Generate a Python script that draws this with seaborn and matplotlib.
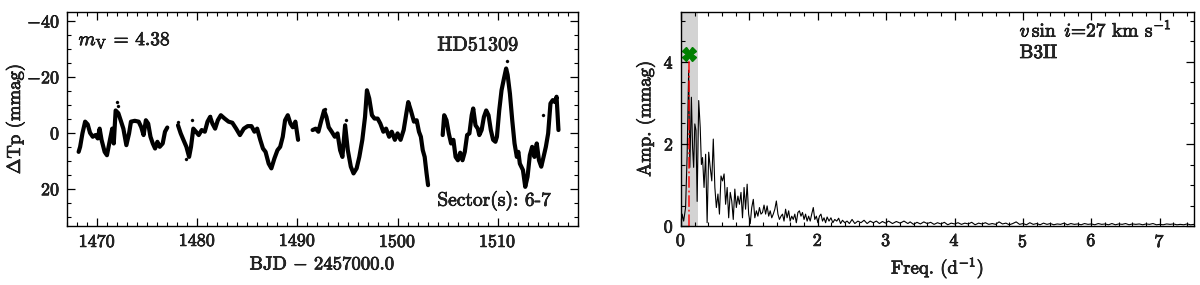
import numpy as np
import pandas as pd
import matplotlib
matplotlib.use('Agg')
import matplotlib.pyplot as plt
import matplotlib.patheffects as pe
from matplotlib.ticker import MultipleLocator
import seaborn as sns

# light curve, 4 chunks (BJD - 2457000, dTp in mmag)
t1 = [1468.13, 1468.28, 1468.51, 1468.78, 1469.04, 1469.27, 1469.54, 1469.81, 1470.04, 1470.23,
      1470.42, 1470.73, 1470.96, 1471.26, 1471.49, 1471.64, 1471.83, 1472.10, 1472.33, 1472.60,
      1472.90, 1473.17, 1473.36, 1473.74, 1474.13, 1474.39, 1474.62, 1474.85, 1475.08, 1475.31,
      1475.54, 1475.77, 1476.00, 1476.23, 1476.53, 1476.76, 1476.99]
m1 = [6.8, 5.0, 0.2, -4.0, -3.0, 0.0, 1.4, 0.8, 2.0, -1.5,
      2.5, 6.8, 8.0, 2.5, -1.5, 3.8, -8.0, -7.0, -4.5, -1.5,
      4.4, 0.2, -4.0, -4.3, -4.0, -2.0, 0.8, -4.5, -3.3, 1.4,
      3.8, 5.6, 3.2, 5.0, 3.8, -0.4, -1.9]

t2 = [1478.06, 1478.33, 1478.60, 1478.90, 1479.17, 1479.36, 1479.59, 1479.86, 1480.13, 1480.43,
      1480.74, 1481.01, 1481.27, 1481.50, 1481.77, 1482.04, 1482.34, 1482.72, 1483.11, 1483.49,
      1483.87, 1484.25, 1484.64, 1485.02, 1485.40, 1485.70, 1485.97, 1486.28, 1486.55, 1486.81,
      1487.12, 1487.39, 1487.69, 1488.00, 1488.27, 1488.53, 1488.76, 1489.03, 1489.30, 1489.53,
      1489.79, 1490.06]
m2 = [-2.7, 0.2, 2.5, 5.0, 8.6, 5.0, -1.5, -0.4, 0.8, -1.0,
      -0.4, -4.0, -5.7, -3.3, -1.5, -4.5, -6.3, -5.1, -4.0, -3.6,
      -1.5, 0.8, -1.5, -2.4, -2.4, -0.4, -1.5, 2.5, 5.6, 6.8,
      11.0, 12.7, 9.2, 6.2, 5.0, 1.4, -4.5, -6.3, -3.3, -2.0,
      -4.0, 2.5]

t3 = [1491.51, 1491.82, 1492.09, 1492.35, 1492.66, 1492.89, 1493.12, 1493.42, 1493.73, 1494.00,
      1494.26, 1494.49, 1494.76, 1495.03, 1495.33, 1495.60, 1495.91, 1496.18, 1496.48, 1496.75,
      1496.94, 1497.17, 1497.44, 1497.70, 1498.01, 1498.28, 1498.58, 1498.85, 1499.16, 1499.42,
      1499.73, 1500.00, 1500.30, 1500.61, 1500.88, 1501.07, 1501.33, 1501.64, 1501.91, 1502.14,
      1502.33, 1502.52, 1502.71, 1502.90, 1503.05]
m3 = [-1.0, -1.5, -0.4, -4.0, -8.0, -5.7, -2.0, -0.4, 1.4, 0.2,
      6.2, 8.6, -2.7, 6.2, 12.1, 14.5, 12.7, 8.6, 2.5, -5.7,
      -15.2, -12.3, -6.3, -5.1, -5.1, -3.3, -0.4, -1.5, 1.4, -0.4,
      2.5, 0.2, 2.5, -1.0, -7.0, -11.0, -8.0, -4.0, -4.5, -0.4,
      1.4, 6.2, 8.6, 14.5, 18.7]

t4 = [1504.51, 1504.66, 1504.89, 1505.12, 1505.35, 1505.58, 1505.80, 1506.03, 1506.26, 1506.49,
      1506.72, 1506.95, 1507.18, 1507.41, 1507.56, 1507.79, 1508.02, 1508.17, 1508.40, 1508.63,
      1508.86, 1509.09, 1509.32, 1509.55, 1509.78, 1509.93, 1510.16, 1510.39, 1510.62, 1510.85,
      1511.00, 1511.23, 1511.46, 1511.69, 1511.92, 1512.07, 1512.22, 1512.53, 1512.76, 1512.99,
      1513.22, 1513.45, 1513.68, 1513.91, 1514.13, 1514.36, 1514.59, 1514.82, 1515.05, 1515.28,
      1515.51, 1515.74, 1515.89, 1516.08]
m4 = [0.8, -6.3, -4.5, 0.2, 3.8, 2.5, 8.6, 9.8, 7.1, 9.8,
      6.8, 0.8, 0.2, -6.3, -8.7, -2.7, -1.5, 0.8, -1.0, -5.7,
      -8.0, -6.3, -1.0, 2.5, 3.2, 1.4, -8.0, -15.2, -19.2, -23.0,
      -20.7, -14.0, -4.5, 3.8, 8.6, 6.8, 11.0, 13.3, 19.3, 15.7,
      8.0, 5.0, 8.6, 3.8, 9.8, 12.1, 8.6, 5.0, 0.2, -10.5,
      -11.7, -11.0, -12.9, -1.0]

# a few stray points off the main trend
out_t = [1471.95, 1472.05, 1478.05, 1478.85, 1479.45, 1481.30, 1492.70, 1494.85, 1507.55, 1510.95, 1514.55]
out_m = [-11.0, -9.5, -4.0, 9.5, -4.5, -6.0, -8.5, -4.5, -8.5, -25.5, -6.5]

# amplitude spectrum (freq in 1/d, amp in mmag)
freq = [0.000, 0.017, 0.039, 0.067, 0.090, 0.112, 0.129, 0.152, 0.169, 0.185,
        0.202, 0.219, 0.236, 0.259, 0.281, 0.298, 0.315, 0.337, 0.360, 0.382,
        0.405, 0.427, 0.450, 0.472, 0.495, 0.517, 0.540, 0.562, 0.585, 0.607,
        0.630, 0.652, 0.675, 0.697, 0.720, 0.742, 0.764, 0.787, 0.809, 0.832,
        0.854, 0.877, 0.899, 0.922, 0.944, 0.967, 0.989, 1.012, 1.034, 1.057,
        1.079, 1.102, 1.124, 1.147, 1.169, 1.192, 1.214, 1.237, 1.259, 1.282,
        1.304, 1.327, 1.349, 1.372, 1.394, 1.417, 1.439, 1.462, 1.484, 1.506,
        1.529, 1.551, 1.574, 1.596, 1.619, 1.641, 1.664, 1.686, 1.709, 1.731,
        1.754, 1.776, 1.799, 1.821, 1.844, 1.866, 1.889, 1.911, 1.934, 1.956,
        1.979, 2.001, 2.024, 2.046, 2.069, 2.091, 2.114, 2.136, 2.164, 2.192,
        2.220, 2.248, 2.277, 2.305, 2.333, 2.361, 2.395, 2.428, 2.462, 2.501,
        2.541, 2.586, 2.631, 2.676, 2.721, 2.766, 2.811, 2.856, 2.901, 2.945,
        2.990, 3.035, 3.092, 3.148, 3.204, 3.260, 3.317,
        3.35, 3.40, 3.45, 3.50, 3.55, 3.60, 3.65, 3.70, 3.75, 3.80,
        3.85, 3.90, 3.95, 4.00, 4.05, 4.10, 4.15, 4.20, 4.25, 4.30,
        4.35, 4.40, 4.45, 4.50, 4.55, 4.60, 4.65, 4.70, 4.75, 4.80,
        4.85, 4.90, 4.95, 5.00, 5.05, 5.10, 5.15, 5.20, 5.25, 5.30,
        5.35, 5.40, 5.45, 5.50, 5.55, 5.60, 5.65, 5.70, 5.75, 5.80,
        5.85, 5.90, 5.95, 6.00, 6.05, 6.10, 6.15, 6.20, 6.25, 6.30,
        6.35, 6.40, 6.45, 6.50, 6.55, 6.60, 6.65, 6.70, 6.75, 6.80,
        6.85, 6.90, 6.95, 7.00, 7.05, 7.10, 7.15, 7.20, 7.25, 7.30,
        7.35, 7.40, 7.45, 7.50]
amp = [0.02, 0.29, 0.12, 0.45, 1.75, 3.80, 1.43, 3.14, 1.92, 1.43,
       2.49, 2.33, 0.60, 3.06, 2.40, 1.50, 1.67, 0.94, 1.75, 0.08,
       1.80, 1.43, 1.10, 2.12, 0.94, 0.45, 0.78, 0.29, 1.22, 1.10,
       1.27, 0.53, 0.94, 0.20, 0.82, 0.61, 0.16, 0.90, 0.45, 0.73,
       0.53, 0.82, 0.20, 0.94, 0.41, 1.02, 0.29, 0.06, 0.45, 0.65,
       0.20, 0.37, 0.24, 0.45, 0.29, 0.33, 0.51, 0.29, 0.49, 0.24,
       0.37, 0.20, 0.29, 0.41, 0.61, 0.29, 0.16, 0.24, 0.29, 0.12,
       0.41, 0.20, 0.37, 0.12, 0.24, 0.16, 0.29, 0.08, 0.33, 0.37,
       0.24, 0.33, 0.16, 0.29, 0.12, 0.24, 0.12, 0.29, 0.45, 0.16,
       0.24, 0.08, 0.24, 0.29, 0.12, 0.20, 0.08, 0.22, 0.12, 0.20,
       0.08, 0.16, 0.12, 0.19, 0.06, 0.14, 0.08, 0.12, 0.06, 0.16,
       0.06, 0.12, 0.08, 0.14, 0.06, 0.12, 0.08, 0.12, 0.06, 0.11,
       0.07, 0.12, 0.06, 0.11, 0.07, 0.12, 0.06,
       0.10, 0.04, 0.09, 0.05, 0.10, 0.06, 0.09, 0.04, 0.08, 0.05,
       0.09, 0.03, 0.07, 0.05, 0.08, 0.04, 0.07, 0.05, 0.09, 0.03,
       0.07, 0.05, 0.08, 0.04, 0.06, 0.04, 0.10, 0.05, 0.07, 0.03,
       0.06, 0.10, 0.04, 0.06, 0.03, 0.08, 0.04, 0.06, 0.03, 0.07,
       0.04, 0.06, 0.03, 0.05, 0.04, 0.07, 0.03, 0.06, 0.04, 0.05,
       0.03, 0.06, 0.04, 0.05, 0.03, 0.06, 0.04, 0.05, 0.03, 0.06,
       0.03, 0.05, 0.04, 0.06, 0.03, 0.05, 0.04, 0.05, 0.03, 0.05,
       0.04, 0.06, 0.03, 0.04, 0.03, 0.05, 0.04, 0.05, 0.03, 0.04,
       0.03, 0.05, 0.03, 0.04]

f_peak = 0.112
a_mark = 4.2
f_window = 0.25

sns.set_theme(style='ticks')
plt.rcParams['font.family'] = ['cmr10', 'DejaVu Serif']
plt.rcParams['mathtext.fontset'] = 'cm'
plt.rcParams['axes.formatter.use_mathtext'] = True
plt.rcParams['axes.unicode_minus'] = True
plt.rcParams['font.size'] = 13
plt.rcParams['axes.edgecolor'] = 'black'
plt.rcParams['axes.linewidth'] = 1.0

lc = pd.concat([pd.DataFrame({'t': t, 'mag': m, 'seg': i})
                for i, (t, m) in enumerate([(t1, m1), (t2, m2), (t3, m3), (t4, m4)])])

fig = plt.figure(figsize=(12, 2.85), dpi=100)
ax1 = fig.add_axes([0.0561, 0.207, 0.4253, 0.751])
ax2 = fig.add_axes([0.5675, 0.207, 0.4275, 0.751])

sns.lineplot(data=lc, x='t', y='mag', units='seg', estimator=None, color='black',
             lw=3.0, ax=ax1, sort=False)
sns.scatterplot(x=out_t, y=out_m, color='black', s=5, edgecolor=None, ax=ax1)
ax1.set_xlim(1467.0, 1518.0)
ax1.set_ylim(33.3, -43.2)
ax1.set_xlabel(r'BJD $-$ 2457000.0', fontsize=13.5)
ax1.set_ylabel(r'$\Delta$Tp (mmag)', fontsize=13.5)
ax1.yaxis.set_label_coords(-0.079, 0.5)
ax1.xaxis.set_major_locator(MultipleLocator(10))
ax1.xaxis.set_minor_locator(MultipleLocator(1))
ax1.yaxis.set_major_locator(MultipleLocator(20))
ax1.yaxis.set_minor_locator(MultipleLocator(5))
ax1.text(0.022, 0.845, r'$m_{\rm V}$ = 4.38', transform=ax1.transAxes, fontsize=14)
ax1.text(0.725, 0.82, 'HD51309', transform=ax1.transAxes, fontsize=14.5)
ax1.text(0.725, 0.095, 'Sector(s): 6-7', transform=ax1.transAxes, fontsize=14)

ax2.axvspan(0, f_window, color='lightgrey', lw=0, zorder=0)
sns.lineplot(x=freq, y=amp, color='black', lw=0.8, ax=ax2, sort=False)
ax2.plot([f_peak, f_peak], [0, a_mark], color='red', ls='-.', lw=1.3, alpha=0.8)
ax2.plot([f_peak], [a_mark], marker='X', color='green', ms=10, ls='none')
ax2.set_xlim(0, 7.5)
ax2.set_ylim(0, 5.22)
ax2.set_xlabel(r'Freq. (d$^{-1}$)', fontsize=13.5)
ax2.set_ylabel('Amp. (mmag)', fontsize=13.5)
ax2.yaxis.set_label_coords(-0.05, 0.5)
ax2.xaxis.set_major_locator(MultipleLocator(1))
ax2.xaxis.set_minor_locator(MultipleLocator(0.2))
ax2.yaxis.set_major_locator(MultipleLocator(2))
ax2.yaxis.set_minor_locator(MultipleLocator(0.5))
ax2.text(0.66, 0.885, r'$v\,\sin\ i$=27 km s$^{-1}$', transform=ax2.transAxes, fontsize=14)
ax2.text(0.66, 0.785, 'B3II', transform=ax2.transAxes, fontsize=14)

for ax in (ax1, ax2):
    ax.tick_params(which='both', direction='in', top=True, right=True, labelsize=13, color='black')
    ax.tick_params(which='major', length=6, width=0.9, pad=5)
    ax.tick_params(which='minor', length=3, width=0.8)

# the reference text is a bit heavier than plain cmr10
fig.canvas.draw()
for txt in fig.findobj(matplotlib.text.Text):
    if txt.get_text():
        txt.set_path_effects([pe.withStroke(linewidth=0.5, foreground='black')])

fig.savefig('out.png', dpi=100)
